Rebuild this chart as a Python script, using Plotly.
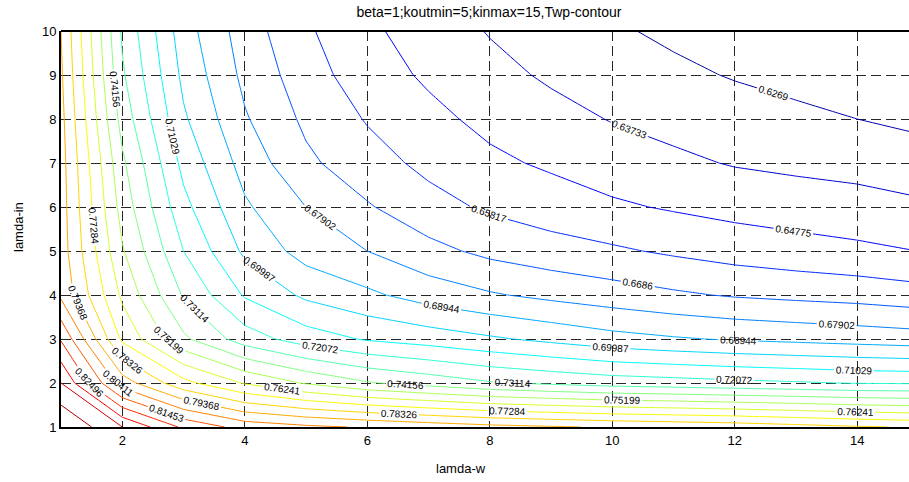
import plotly.graph_objects as go

# grid of the two parameters
lamda_w = [1, 2, 3, 4, 5, 6, 7, 8, 9, 10, 11, 12, 13, 14, 15]
lamda_in = [1, 2, 3, 4, 5, 6, 7, 8, 9, 10]

# Twp values, one row per lamda-in value (1..10), one column per lamda-w value (1..15)
twp = [
    [0.8666, 0.8458, 0.8229, 0.8104, 0.8062, 0.8031, 0.7999, 0.7968, 0.7947, 0.7926, 0.7911, 0.7895, 0.7869, 0.7843, 0.7822],
    [0.8458, 0.7989, 0.7760, 0.7614, 0.7509, 0.7426, 0.7374, 0.7322, 0.7291, 0.7264, 0.7249, 0.7232, 0.7218, 0.7202, 0.7197],
    [0.8239, 0.7707, 0.7436, 0.7259, 0.7155, 0.7092, 0.7056, 0.7014, 0.6973, 0.6931, 0.6905, 0.6884, 0.6868, 0.6853, 0.6837],
    [0.8020, 0.7603, 0.7301, 0.7092, 0.6978, 0.6915, 0.6848, 0.6801, 0.6764, 0.6733, 0.6702, 0.6676, 0.6660, 0.6646, 0.6623],
    [0.7989, 0.7530, 0.7207, 0.6978, 0.6853, 0.6790, 0.6717, 0.6660, 0.6625, 0.6597, 0.6566, 0.6538, 0.6517, 0.6498, 0.6477],
    [0.7984, 0.7478, 0.7134, 0.6910, 0.6790, 0.6696, 0.6618, 0.6566, 0.6528, 0.6493, 0.6467, 0.6444, 0.6428, 0.6415, 0.6389],
    [0.7979, 0.7436, 0.7072, 0.6853, 0.6707, 0.6623, 0.6556, 0.6498, 0.6462, 0.6425, 0.6394, 0.6366, 0.6350, 0.6335, 0.6321],
    [0.7968, 0.7374, 0.7014, 0.6801, 0.6665, 0.6574, 0.6504, 0.6451, 0.6408, 0.6368, 0.6340, 0.6314, 0.6290, 0.6269, 0.6243],
    [0.7952, 0.7327, 0.6973, 0.6764, 0.6629, 0.6524, 0.6462, 0.6405, 0.6358, 0.6316, 0.6290, 0.6262, 0.6241, 0.6222, 0.6201],
    [0.7937, 0.7296, 0.6941, 0.6738, 0.6597, 0.6498, 0.6428, 0.6367, 0.6323, 0.6282, 0.6250, 0.6222, 0.6201, 0.6180, 0.6165],
]

# contour levels
level_start = 0.6269013
level_step = 0.0104239
level_count = 23

x_ticks = [2, 4, 6, 8, 10, 12, 14]
y_ticks = [1, 2, 3, 4, 5, 6, 7, 8, 9, 10]

FONT = "Liberation Sans, Arial, Helvetica, sans-serif"


def jet(t):
    t = min(max(t, 0.0), 1.0)
    r = min(max(min(4 * t - 1.5, -4 * t + 4.5), 0.0), 1.0)
    g = min(max(min(4 * t - 0.5, -4 * t + 3.5), 0.0), 1.0)
    b = min(max(min(4 * t + 0.5, -4 * t + 2.5), 0.0), 1.0)
    return "rgb(%d,%d,%d)" % (round(r * 255), round(g * 255), round(b * 255))


# the levels occupy the jet colormap from one step above the data minimum
# to one step below the data maximum
n_stops = 49
colorscale = []
for i in range(n_stops):
    s = i / (n_stops - 1)
    t = (1 + (level_count - 1) * s) / (level_count + 1)
    colorscale.append([s, jet(t)])

level_end = level_start + (level_count - 1) * level_step + 1e-6

fig = go.Figure()
fig.add_trace(go.Contour(
    x=lamda_w,
    y=lamda_in,
    z=twp,
    autocontour=False,
    contours=dict(
        start=level_start,
        end=level_end,
        size=level_step,
        coloring="lines",
        showlabels=True,
        labelfont=dict(family=FONT, size=10, color="black"),
        labelformat=".5~g",
    ),
    line=dict(width=1, smoothing=0),
    colorscale=colorscale,
    showscale=False,
    hoverinfo="skip",
))

x_right = 1 + 848 / 61.25

grid_style = dict(showgrid=True, gridcolor="#262626", gridwidth=1, griddash="10px,5px",
                  showline=True, linecolor="black", linewidth=2,
                  zeroline=False, ticks="", tickfont=dict(size=13))

fig.update_layout(
    width=909,
    height=482,
    margin=dict(l=61, r=0, t=31, b=55),
    paper_bgcolor="white",
    plot_bgcolor="white",
    font=dict(family=FONT, size=13, color="black"),
    title=dict(
        text="beta=1;koutmin=5;kinmax=15,Twp-contour",
        x=489 / 909, xref="container", xanchor="center",
        y=1 - 12 / 482, yref="container", yanchor="middle",
        font=dict(family=FONT, size=14, color="black"),
    ),
    xaxis=dict(range=[1, x_right], tickvals=x_ticks,
               ticktext=[str(v) for v in x_ticks], **grid_style),
    yaxis=dict(range=[1, 10], tickvals=y_ticks,
               ticktext=[str(v) for v in y_ticks], **grid_style),
    shapes=[dict(type="line", xref="paper", yref="paper", x0=0, x1=1, y0=1, y1=1,
                 line=dict(color="black", width=2))],
    annotations=[
        dict(text="lamda-w", xref="paper", yref="paper",
             x=(461 - 61) / 848, y=(427 - 468) / 396,
             xanchor="center", yanchor="middle", showarrow=False,
             font=dict(family=FONT, size=13, color="black")),
        dict(text="lamda-in", xref="paper", yref="paper",
             x=(18 - 61) / 848, y=(427 - 227) / 396, textangle=-90,
             xanchor="center", yanchor="middle", showarrow=False,
             font=dict(family=FONT, size=13, color="black")),
    ],
)

fig.write_html("out.html")
